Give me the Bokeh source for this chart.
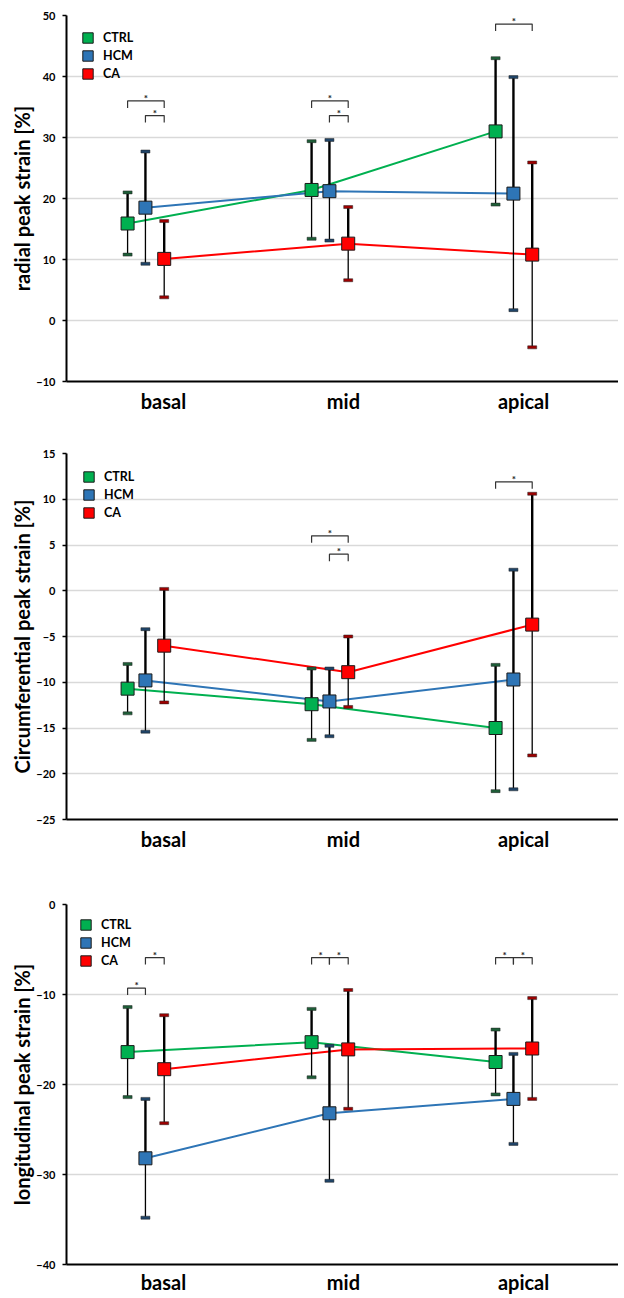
from bokeh.plotting import figure
from bokeh.layouts import column
from bokeh.models import Range1d, FixedTicker, Legend, LegendItem, ColumnDataSource
from bokeh.core.properties import value
from bokeh.embed import file_html
from bokeh.resources import INLINE

# ---------------- data ----------------
CATEGORIES = ["basal", "mid", "apical"]
SERIES = ["CTRL", "HCM", "CA"]

# radial peak strain [%]
RAD_CTRL_MEAN = [15.9, 21.4, 31.0]
RAD_CTRL_UP = [21.0, 29.4, 43.0]
RAD_CTRL_LO = [10.8, 13.4, 19.0]
RAD_HCM_MEAN = [18.5, 21.2, 20.8]
RAD_HCM_UP = [27.7, 29.6, 39.9]
RAD_HCM_LO = [9.3, 13.1, 1.7]
RAD_CA_MEAN = [10.1, 12.6, 10.8]
RAD_CA_UP = [16.3, 18.6, 25.9]
RAD_CA_LO = [3.8, 6.6, -4.4]

# circumferential peak strain [%]
CIR_CTRL_MEAN = [-10.7, -12.4, -15.0]
CIR_CTRL_UP = [-8.0, -8.5, -8.1]
CIR_CTRL_LO = [-13.4, -16.3, -21.9]
CIR_HCM_MEAN = [-9.8, -12.1, -9.7]
CIR_HCM_UP = [-4.2, -8.5, 2.3]
CIR_HCM_LO = [-15.4, -15.9, -21.7]
CIR_CA_MEAN = [-6.0, -8.9, -3.7]
CIR_CA_UP = [0.2, -5.0, 10.6]
CIR_CA_LO = [-12.2, -12.7, -18.0]

# longitudinal peak strain [%]
LON_CTRL_MEAN = [-16.4, -15.3, -17.5]
LON_CTRL_UP = [-11.4, -11.6, -13.9]
LON_CTRL_LO = [-21.4, -19.2, -21.1]
LON_HCM_MEAN = [-28.2, -23.2, -21.6]
LON_HCM_UP = [-21.6, -15.7, -16.6]
LON_HCM_LO = [-34.8, -30.7, -26.6]
LON_CA_MEAN = [-18.3, -16.1, -16.0]
LON_CA_UP = [-12.3, -9.5, -10.4]
LON_CA_LO = [-24.3, -22.7, -21.6]

# significance brackets: (category index, from series, to series, level)
RAD_SIG = [(0, "CTRL", "CA", 36.0), (0, "HCM", "CA", 33.6),
           (1, "CTRL", "CA", 36.0), (1, "HCM", "CA", 33.6),
           (2, "CTRL", "CA", 48.6)]
CIR_SIG = [(1, "CTRL", "CA", 6.0), (1, "HCM", "CA", 4.0),
           (2, "CTRL", "CA", 11.9)]
LON_SIG = [(0, "CTRL", "HCM", -9.3), (0, "HCM", "CA", -5.9),
           (1, "CTRL", "HCM", -5.9), (1, "HCM", "CA", -5.9),
           (2, "CTRL", "HCM", -5.9), (2, "HCM", "CA", -5.9)]

# ---------------- style ----------------
FONT = "Lato"
COLORS = {"CTRL": "#00B050", "HCM": "#2E75B6", "CA": "#FF0000"}
CAP_COLORS = {"CTRL": "#1E5E38", "HCM": "#1F4468", "CA": "#9E0000"}
GROUP_CENTERS = [0.5, 1.5, 2.5]
OFFSETS = {"CTRL": -0.168, "HCM": -0.071, "CA": 0.031}
LABEL_POS = [0.527, 1.505, 2.484]


def make_panel(ylabel, ymin, ymax, ystep, data, sig, height, btop, bbot, lmargin, xstandoff):
    p = figure(width=618, height=height, x_range=Range1d(0, 3), y_range=Range1d(ymin, ymax),
               output_backend="svg", toolbar_location=None,
               min_border_left=66, min_border_right=0, min_border_top=btop, min_border_bottom=bbot)
    p.outline_line_color = None
    p.xgrid.visible = False
    p.ygrid.grid_line_color = "#D9D9D9"
    p.ygrid.grid_line_width = 1.6

    p.yaxis.ticker = FixedTicker(ticks=list(range(ymin, ymax + 1, ystep)))
    p.yaxis.axis_line_color = "black"
    p.yaxis.axis_line_width = 2
    p.yaxis.major_tick_out = 4
    p.yaxis.major_tick_in = 0
    p.yaxis.major_tick_line_width = 1.5
    p.yaxis.minor_tick_line_color = None
    p.yaxis.major_label_text_font = FONT
    p.yaxis.major_label_text_font_style = "bold"
    p.yaxis.major_label_text_font_size = "11px"
    p.yaxis.major_label_text_color = "black"
    p.yaxis.major_label_standoff = 7
    p.yaxis.axis_label = ylabel
    p.yaxis.axis_label_text_font = FONT
    p.yaxis.axis_label_text_font_style = "bold"
    p.yaxis.axis_label_text_font_size = "20px"
    p.yaxis.axis_label_text_color = "black"
    p.yaxis.axis_label_standoff = -1

    p.xaxis.ticker = FixedTicker(ticks=LABEL_POS)
    p.xaxis.major_label_overrides = {t: c for t, c in zip(LABEL_POS, CATEGORIES)}
    p.xaxis.axis_line_color = "black"
    p.xaxis.axis_line_width = 2
    p.xaxis.major_tick_line_color = None
    p.xaxis.major_tick_out = 0
    p.xaxis.major_tick_in = 0
    p.xaxis.minor_tick_line_color = None
    p.xaxis.major_label_text_font = FONT
    p.xaxis.major_label_text_font_style = "bold"
    p.xaxis.major_label_text_font_size = "20px"
    p.xaxis.major_label_text_color = "black"
    p.xaxis.major_label_standoff = xstandoff

    markers = {}
    xs_all = {}
    for s in SERIES:
        mean, up, lo = data[s]
        xs = [c + OFFSETS[s] for c in GROUP_CENTERS]
        xs_all[s] = xs
        src = ColumnDataSource(dict(x=xs, mean=mean))
        p.line("x", "mean", source=src, line_color=COLORS[s], line_width=2)
    for s in SERIES:
        mean, up, lo = data[s]
        src = ColumnDataSource(dict(x=xs_all[s], mean=mean, up=up, lo=lo))
        p.segment("x", "mean", "x", "up", source=src, line_color="black", line_width=2.4)
        p.segment("x", "mean", "x", "lo", source=src, line_color="black", line_width=1.3)
        for col in ("up", "lo"):
            p.rect("x", col, width=9, height=3, width_units="screen", height_units="screen",
                   source=src, fill_color=CAP_COLORS[s], line_color="#222222", line_width=0.5)
    for s in SERIES:
        mean, up, lo = data[s]
        src = ColumnDataSource(dict(x=xs_all[s], mean=mean))
        markers[s] = p.rect("x", "mean", source=src, width=13, height=13,
                            width_units="screen", height_units="screen",
                            fill_color=COLORS[s], line_color="#1A1A1A", line_width=1)

    # significance brackets
    leg = (ymax - ymin) * 7.0 / 366.0
    bx, by, sx, sy = [], [], [], []
    for ci, a, b, lvl in sig:
        x0 = GROUP_CENTERS[ci] + OFFSETS[a]
        x1 = GROUP_CENTERS[ci] + OFFSETS[b]
        bx.append([x0, x0, x1, x1])
        by.append([lvl - leg, lvl, lvl, lvl - leg])
        sx.append((x0 + x1) / 2)
        sy.append(lvl)
    p.multi_line(bx, by, line_color="#333333", line_width=1.2)
    p.text(sx, sy, text=["*"] * len(sx), text_font=value(FONT), text_font_style="bold",
           text_font_size="10px", text_align="center", text_baseline="middle",
           y_offset=-3, text_color="#222222")

    legend = Legend(items=[LegendItem(label=s, renderers=[markers[s]]) for s in SERIES],
                    location="top_left", orientation="vertical",
                    glyph_width=13, glyph_height=13, label_height=12, spacing=3,
                    label_text_font=FONT, label_text_font_style="bold",
                    label_text_font_size="12.5px", label_text_color="black",
                    label_standoff=9, padding=0, margin=lmargin,
                    border_line_color=None, background_fill_alpha=0)
    p.add_layout(legend)
    return p


rad = {"CTRL": (RAD_CTRL_MEAN, RAD_CTRL_UP, RAD_CTRL_LO),
       "HCM": (RAD_HCM_MEAN, RAD_HCM_UP, RAD_HCM_LO),
       "CA": (RAD_CA_MEAN, RAD_CA_UP, RAD_CA_LO)}
cir = {"CTRL": (CIR_CTRL_MEAN, CIR_CTRL_UP, CIR_CTRL_LO),
       "HCM": (CIR_HCM_MEAN, CIR_HCM_UP, CIR_HCM_LO),
       "CA": (CIR_CA_MEAN, CIR_CA_UP, CIR_CA_LO)}
lon = {"CTRL": (LON_CTRL_MEAN, LON_CTRL_UP, LON_CTRL_LO),
       "HCM": (LON_HCM_MEAN, LON_HCM_UP, LON_HCM_LO),
       "CA": (LON_CA_MEAN, LON_CA_UP, LON_CA_LO)}

p1 = make_panel("radial peak strain [%]", -10, 50, 10, rad, RAD_SIG, 430, 15, 49, 15, 7)
p2 = make_panel("Circumferential peak strain [%]", -25, 15, 5, cir, CIR_SIG, 430, 23, 41, 16, 7)
p3 = make_panel("longitudinal peak strain [%]", -40, 0, 10, lon, LON_SIG, 436, 44, 30, 13, 5)

layout = column(p1, p2, p3, spacing=0)
open("out.html", "w").write(file_html(layout, INLINE))
